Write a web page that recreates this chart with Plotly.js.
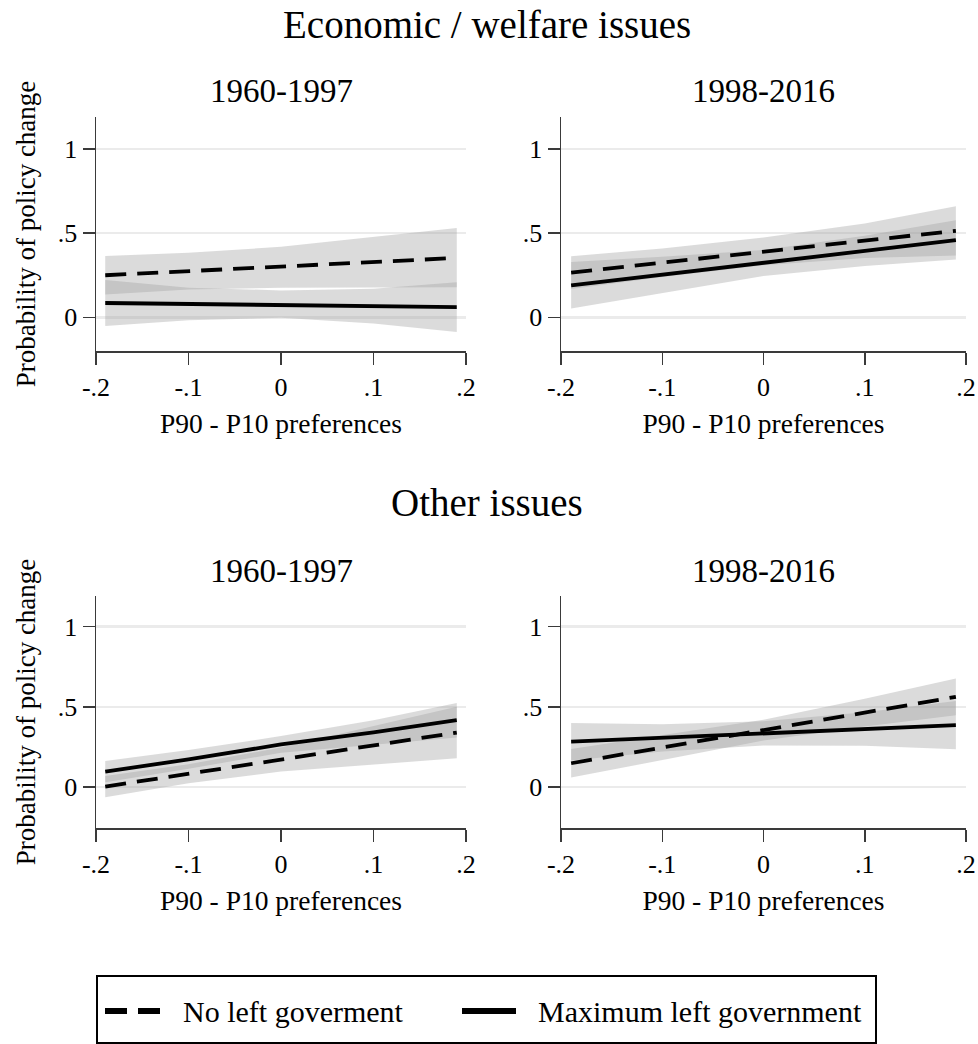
<!DOCTYPE html>
<html>
<head>
<meta charset="utf-8">
<script src="https://cdn.plot.ly/plotly-3.0.1.min.js"></script>
<style>
  html, body { margin: 0; padding: 0; background: #ffffff; }
  #chart { width: 978px; height: 1044px; }
</style>
</head>
<body>
<div id="chart"></div>
<script>
// Predicted probability of policy change by P90 - P10 preference gap,
// with 95% confidence bands, for two periods and two issue groups.
const xs = [-0.19, -0.1, 0, 0.1, 0.19];

// Economic / welfare issues, 1960-1997
const econEarlyNoLeft    = [0.250, 0.274, 0.300, 0.327, 0.353];
const econEarlyNoLeftLo  = [0.135, 0.165, 0.176, 0.178, 0.178];
const econEarlyNoLeftHi  = [0.365, 0.383, 0.419, 0.478, 0.530];
const econEarlyMaxLeft   = [0.085, 0.079, 0.073, 0.067, 0.061];
const econEarlyMaxLeftLo = [-0.052, -0.018, -0.002, -0.036, -0.087];
const econEarlyMaxLeftHi = [0.222, 0.176, 0.160, 0.170, 0.209];

// Economic / welfare issues, 1998-2016
const econLateNoLeft    = [0.266, 0.325, 0.390, 0.455, 0.514];
const econLateNoLeftLo  = [0.169, 0.240, 0.310, 0.353, 0.368];
const econLateNoLeftHi  = [0.363, 0.409, 0.474, 0.557, 0.660];
const econLateMaxLeft   = [0.190, 0.253, 0.324, 0.395, 0.458];
const econLateMaxLeftLo = [0.052, 0.145, 0.246, 0.305, 0.343];
const econLateMaxLeftHi = [0.328, 0.360, 0.400, 0.485, 0.577];

// Other issues, 1960-1997
const otherEarlyNoLeft    = [0.004, 0.084, 0.172, 0.260, 0.340];
const otherEarlyNoLeftLo  = [-0.062, 0.025, 0.097, 0.142, 0.180];
const otherEarlyNoLeftHi  = [0.070, 0.143, 0.247, 0.378, 0.500];
const otherEarlyMaxLeft   = [0.097, 0.173, 0.266, 0.341, 0.417];
const otherEarlyMaxLeftLo = [0.031, 0.115, 0.214, 0.265, 0.310];
const otherEarlyMaxLeftHi = [0.163, 0.231, 0.318, 0.417, 0.524];

// Other issues, 1998-2016
const otherLateNoLeft    = [0.149, 0.247, 0.355, 0.464, 0.562];
const otherLateNoLeftLo  = [0.060, 0.169, 0.290, 0.378, 0.448];
const otherLateNoLeftHi  = [0.238, 0.325, 0.420, 0.550, 0.676];
const otherLateMaxLeft   = [0.283, 0.307, 0.335, 0.362, 0.386];
const otherLateMaxLeftLo = [0.166, 0.222, 0.260, 0.258, 0.236];
const otherLateMaxLeftHi = [0.400, 0.392, 0.410, 0.466, 0.536];

const xTickVals = [-0.2, -0.1, 0, 0.1, 0.2];
const xTickText = ['-.2', '-.1', '0', '.1', '.2'];
const yTickVals = [0, 0.5, 1];
const yTickText = ['0', '.5', '1'];

const groupTitles = ['Economic / welfare issues', 'Other issues'];
const periodTitles = ['1960-1997', '1998-2016'];
const seriesNames = ['No left goverment', 'Maximum left government'];
const xTitle = 'P90 - P10 preferences';
const yTitle = 'Probability of policy change';

const FONT = '"Liberation Serif", "Times New Roman", Times, serif';
const BAND = 'rgba(160,160,160,0.38)';
const AXIS = '#3a3a3a';
const DASH = '21px,11px';

const panels = [
  { ax: '',  noLeft: [econEarlyNoLeft, econEarlyNoLeftLo, econEarlyNoLeftHi],
             maxLeft: [econEarlyMaxLeft, econEarlyMaxLeftLo, econEarlyMaxLeftHi] },
  { ax: '2', noLeft: [econLateNoLeft, econLateNoLeftLo, econLateNoLeftHi],
             maxLeft: [econLateMaxLeft, econLateMaxLeftLo, econLateMaxLeftHi] },
  { ax: '3', noLeft: [otherEarlyNoLeft, otherEarlyNoLeftLo, otherEarlyNoLeftHi],
             maxLeft: [otherEarlyMaxLeft, otherEarlyMaxLeftLo, otherEarlyMaxLeftHi] },
  { ax: '4', noLeft: [otherLateNoLeft, otherLateNoLeftLo, otherLateNoLeftHi],
             maxLeft: [otherLateMaxLeft, otherLateMaxLeftLo, otherLateMaxLeftHi] }
];

const traces = [];
panels.forEach(p => {
  const xa = 'x' + p.ax, ya = 'y' + p.ax;
  [p.noLeft, p.maxLeft].forEach(s => {
    traces.push({ x: xs, y: s[1], xaxis: xa, yaxis: ya, mode: 'lines',
      line: { width: 0, color: BAND }, hoverinfo: 'skip', showlegend: false });
    traces.push({ x: xs, y: s[2], xaxis: xa, yaxis: ya, mode: 'lines',
      line: { width: 0, color: BAND }, fill: 'tonexty', fillcolor: BAND,
      hoverinfo: 'skip', showlegend: false });
  });
  traces.push({ x: xs, y: p.noLeft[0], xaxis: xa, yaxis: ya, mode: 'lines',
    name: seriesNames[0], line: { color: '#000', width: 3.8, dash: DASH }, showlegend: false });
  traces.push({ x: xs, y: p.maxLeft[0], xaxis: xa, yaxis: ya, mode: 'lines',
    name: seriesNames[1], line: { color: '#000', width: 3.8 }, showlegend: false });
});

const W = 978, H = 1044;
const px = v => v / W;
const py = v => 1 - v / H;

const xDomL = [px(96), px(466)];
const xDomR = [px(561), px(966)];
const yDomT = [py(351), py(117)];
const yDomB = [py(828), py(596)];

function xAxis(domain, anchor) {
  return {
    domain: domain, anchor: anchor, range: [-0.2, 0.2],
    tickvals: xTickVals, ticktext: xTickText,
    ticks: 'outside', ticklen: 12, tickwidth: 1.5, tickcolor: AXIS,
    showline: true, linecolor: AXIS, linewidth: 1.5,
    showgrid: false, zeroline: false, fixedrange: true,
    tickfont: { family: FONT, size: 26, color: '#000' },
    title: { text: xTitle, standoff: 13, font: { family: FONT, size: 27.5, color: '#000' } }
  };
}
function yAxis(domain, anchor, range, withTitle) {
  return {
    domain: domain, anchor: anchor, range: range,
    tickvals: yTickVals, ticktext: yTickText,
    ticks: 'outside', ticklen: 12, tickwidth: 1.5, tickcolor: AXIS,
    showline: true, linecolor: AXIS, linewidth: 1.5,
    showgrid: true, gridcolor: '#ebebeb', gridwidth: 2.5,
    zeroline: false, fixedrange: true,
    tickfont: { family: FONT, size: 26, color: '#000' },
    title: withTitle ? { text: yTitle, standoff: 14, font: { family: FONT, size: 27, color: '#000' } } : { text: '' }
  };
}

const topRange = [-0.2, 1.19];
const botRange = [-0.254, 1.19];

const annotations = [];
function addText(text, x, y, size, anchor) {
  annotations.push({ text: text, x: x, y: y, xref: 'paper', yref: 'paper',
    xanchor: anchor || 'center', yanchor: 'middle', showarrow: false,
    font: { family: FONT, size: size, color: '#000' } });
}
addText(groupTitles[0], px(487), py(25), 39);
addText(groupTitles[1], px(487), py(503), 39);
addText(periodTitles[0], px(281), py(91), 33);
addText(periodTitles[1], px(763), py(91), 33);
addText(periodTitles[0], px(281), py(571), 33);
addText(periodTitles[1], px(763), py(571), 33);
addText(seriesNames[0], px(181), py(1011), 30, 'left');
addText(seriesNames[1], px(536), py(1011), 30, 'left');

// Legend frame and key lines
const shapes = [
  { type: 'rect', xref: 'paper', yref: 'paper', x0: px(97), x1: px(876), y0: py(1043), y1: py(976),
    line: { color: '#000', width: 2 }, fillcolor: 'rgba(0,0,0,0)' },
  { type: 'line', xref: 'paper', yref: 'paper', x0: px(105), x1: px(161), y0: py(1011), y1: py(1011),
    line: { color: '#000', width: 6, dash: '22px,11px' } },
  { type: 'line', xref: 'paper', yref: 'paper', x0: px(462), x1: px(516), y0: py(1011), y1: py(1011),
    line: { color: '#000', width: 6 } }
];

const layout = {
  width: W, height: H,
  margin: { l: 0, r: 0, t: 0, b: 0 },
  paper_bgcolor: '#ffffff', plot_bgcolor: '#ffffff',
  showlegend: false,
  font: { family: FONT, color: '#000' },
  xaxis:  xAxis(xDomL, 'y'),
  yaxis:  yAxis(yDomT, 'x', topRange, true),
  xaxis2: xAxis(xDomR, 'y2'),
  yaxis2: yAxis(yDomT, 'x2', topRange, false),
  xaxis3: xAxis(xDomL, 'y3'),
  yaxis3: yAxis(yDomB, 'x3', botRange, true),
  xaxis4: xAxis(xDomR, 'y4'),
  yaxis4: yAxis(yDomB, 'x4', botRange, false),
  annotations: annotations,
  shapes: shapes
};

Plotly.newPlot('chart', traces, layout, { displayModeBar: false, staticPlot: true });
</script>
</body>
</html>
